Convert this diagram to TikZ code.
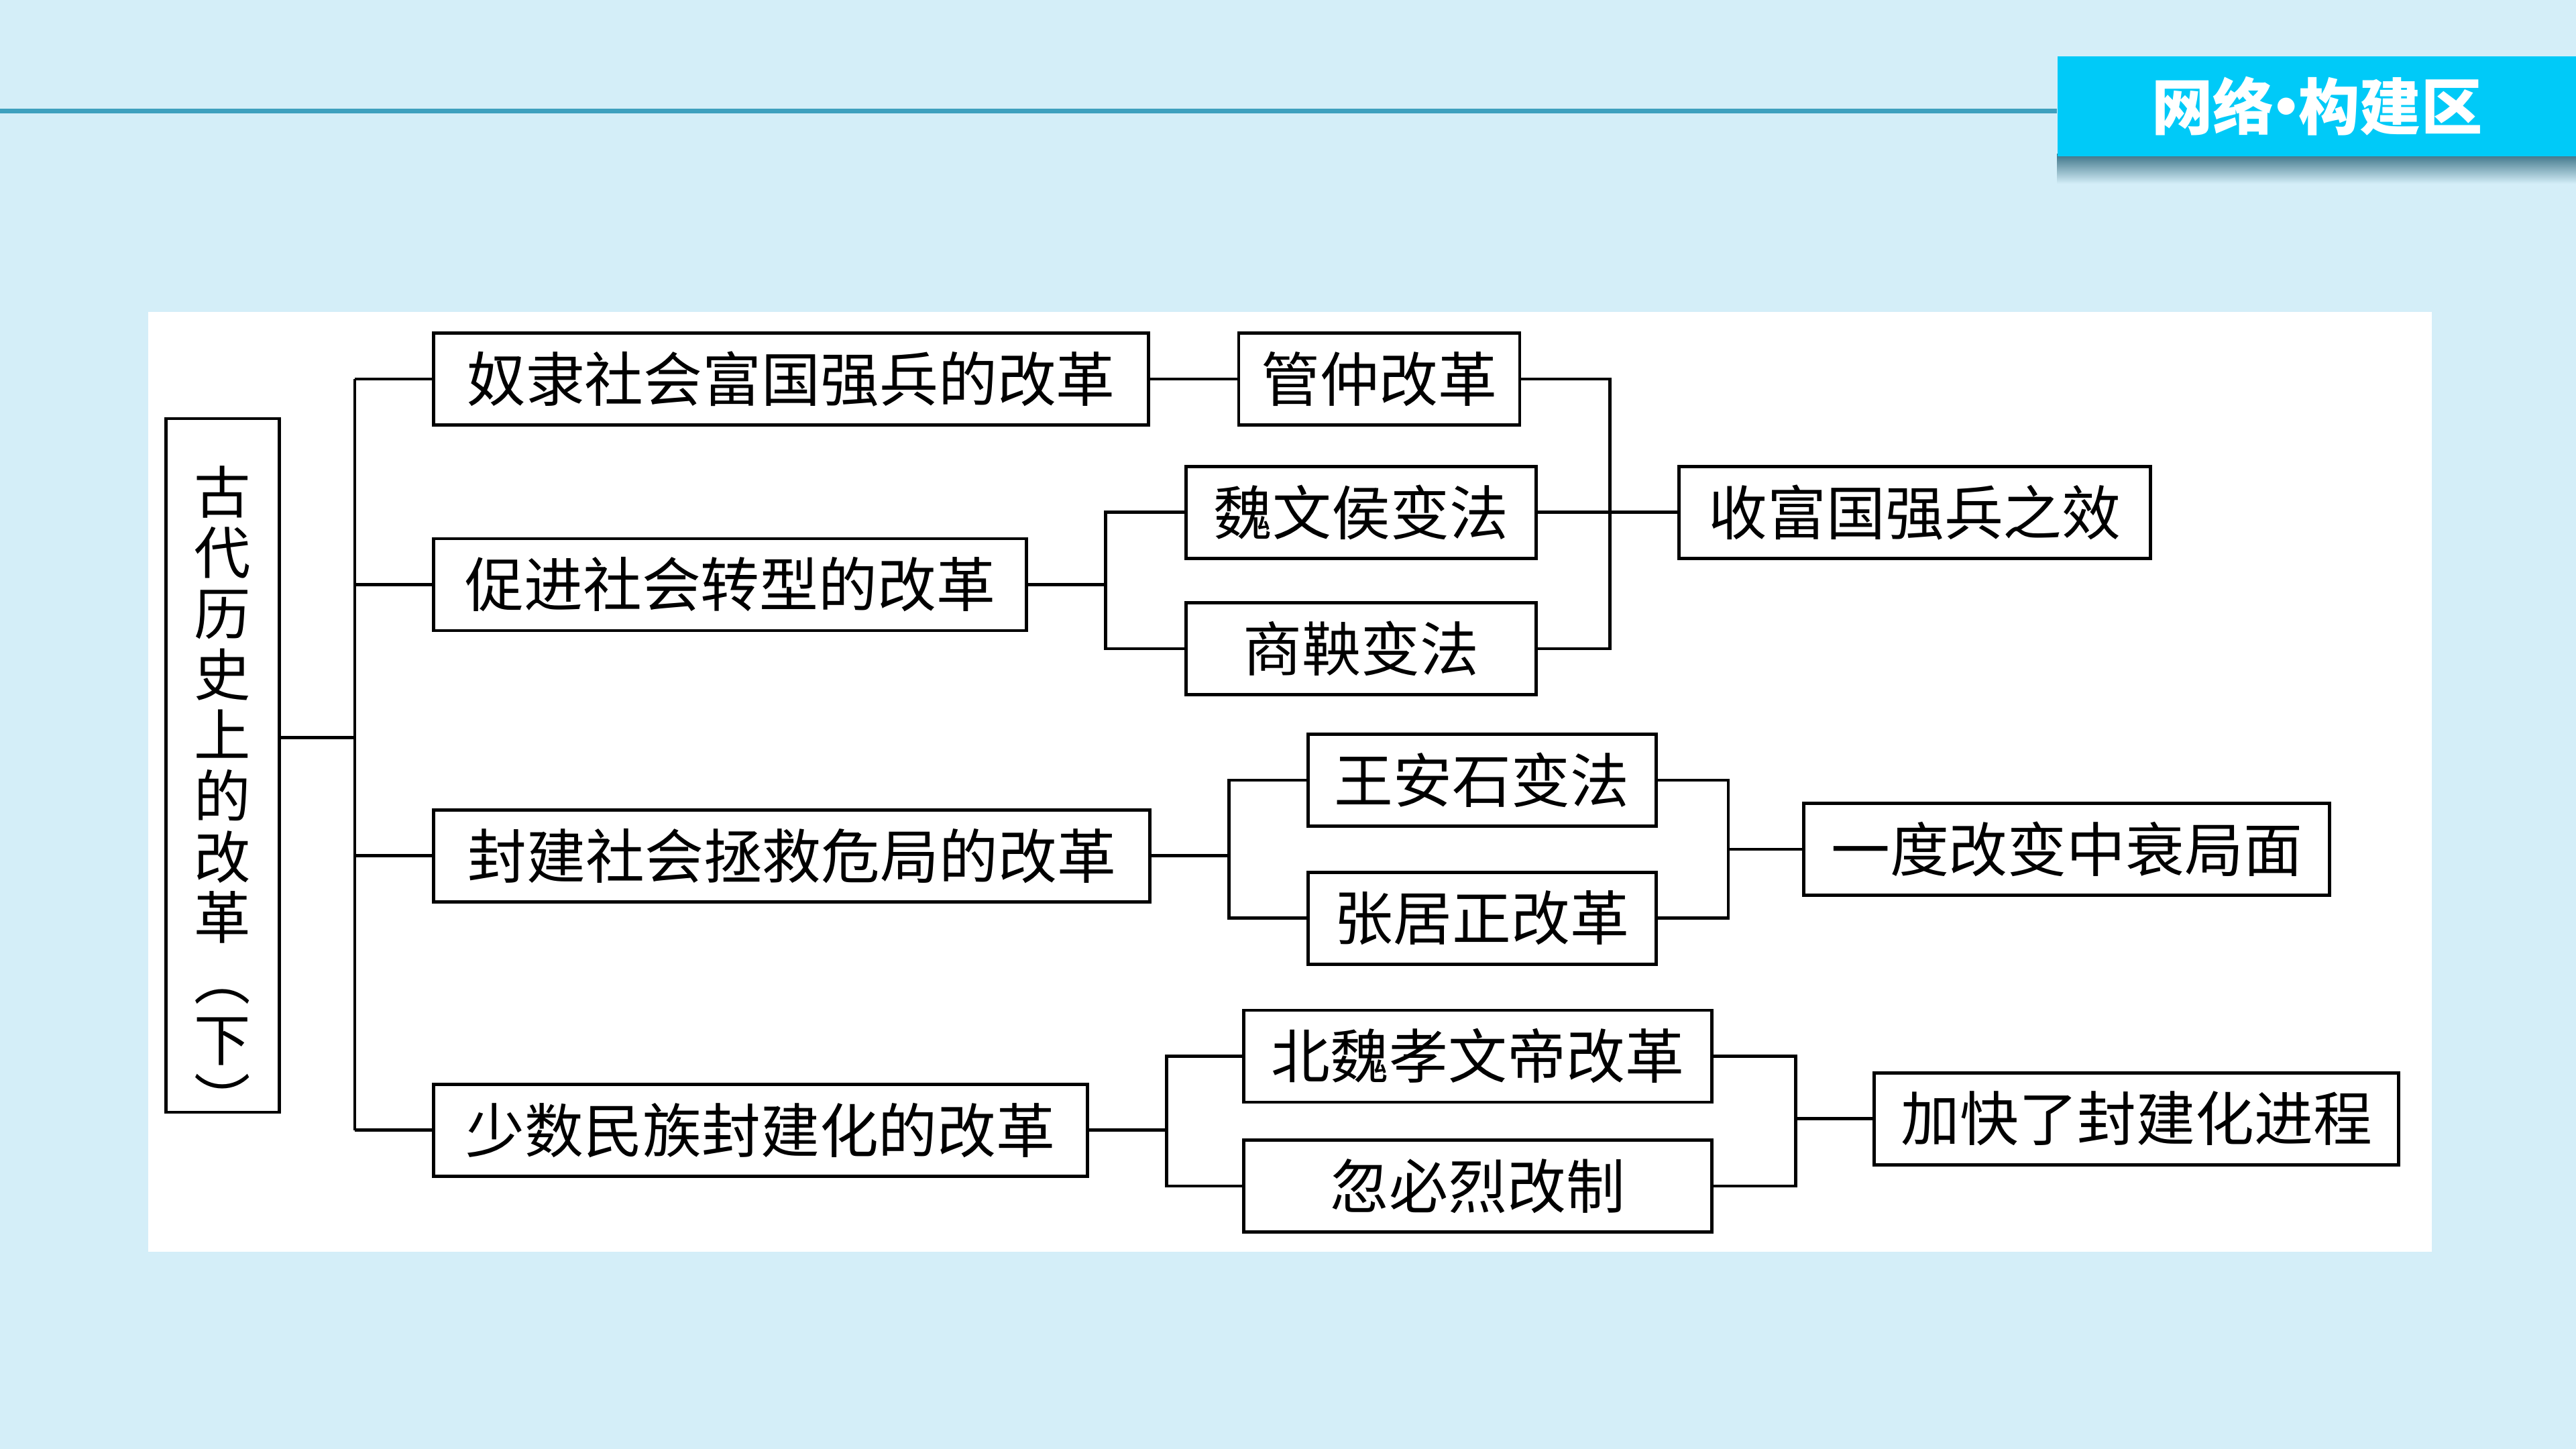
\documentclass[tikz,border=0pt]{standalone}
\usepackage{fontspec}
\newfontfamily\cjk{Noto Sans CJK SC}
\usepackage{tikz}
\usetikzlibrary{calc,positioning}
\definecolor{bgblue}{RGB}{212,238,248}
\definecolor{rulecol}{RGB}{62,160,190}
\definecolor{bannerblue}{RGB}{0,202,248}
\definecolor{shadowteal}{RGB}{60,115,135}

\begin{document}
\begin{tikzpicture}[x=1cm,y=1cm]

% --- STYLES ---
\tikzset{
  box/.style={draw=black, line width=1.4pt, fill=white,
              minimum height=1.37cm, inner xsep=0.15cm,
              font={\cjk\fontsize{25pt}{30pt}\selectfont}},
  roottext/.style={align=center, inner sep=0pt,
              font={\cjk\fontsize{24pt}{25.8pt}\selectfont}},
  link/.style={black, line width=1.3pt},
  banner/.style={fill=bannerblue, text=white, inner sep=0pt,
              font={\cjk\bfseries\fontsize{26pt}{30pt}\selectfont}},
}

% ================= BACKGROUND & BANNER =================
\fill[bgblue] (0,0) rectangle (38.41,21.60);
\useasboundingbox (0,0) rectangle (38.41,21.60);

\coordinate (ruleL) at (0,19.94);
\coordinate (ruleR) at (30.67,19.94);
\draw[rulecol, line width=2pt] (ruleL) -- (ruleR);

\shade[top color=shadowteal, bottom color=bgblue] (30.67,18.86) rectangle (38.41,19.30);
\node[banner, minimum width=7.74cm, minimum height=1.49cm, anchor=north west]
      (banner) at (30.67,20.77) {网络\kern-0.3em·\kern-0.3em构建区};

% white panel
\fill[white] (2.205,2.94) rectangle (36.26,16.95);

% ================= ROOT =================
\node[box, minimum width=1.69cm, minimum height=10.34cm] (root) at (3.319,10.19) {};
\node[roottext] (rootlbl) at ($(root.center)+(0,-0.42)$)
      {古\\代\\历\\史\\上\\的\\改\\革\\︵\\下\\︶};

% ================= FIRST LEVEL =================
\node[box, minimum width=10.66cm] (A) at (11.795,15.948) {奴隶社会富国强兵的改革};
\node[box, minimum width=8.84cm]  (B) at (10.889,12.885) {促进社会转型的改革};
\node[box, minimum width=10.68cm] (C) at (11.808, 8.843) {封建社会拯救危局的改革};
\node[box, minimum width=9.75cm]  (D) at (11.342, 4.752) {少数民族封建化的改革};

% ================= SECOND LEVEL =================
\node[box, minimum width=4.19cm] (A1) at (20.565,15.948) {管仲改革};
\node[box, minimum width=5.22cm] (B1) at (20.296,13.963) {魏文侯变法};
\node[box, minimum width=5.22cm] (B2) at (20.296,11.930) {商鞅变法};
\node[box, minimum width=5.19cm] (C1) at (22.096, 9.970) {王安石变法};
\node[box, minimum width=5.19cm] (C2) at (22.096, 7.913) {张居正改革};
\node[box, minimum width=6.98cm] (D1) at (22.035, 5.855) {北魏孝文帝改革};
\node[box, minimum width=6.98cm] (D2) at (22.035, 3.920) {忽必烈改制};

% ================= RESULTS =================
\node[box, minimum width=7.03cm] (R1) at (28.551,13.963) {收富国强兵之效};
\node[box, minimum width=7.84cm] (R2) at (30.817, 8.941) {一度改变中衰局面};
\node[box, minimum width=7.82cm] (R3) at (31.858, 4.924) {加快了封建化进程};

% ================= CONNECTORS =================
\coordinate (hub) at (5.291,10.607);
\draw[link] (root.east |- hub) -- (hub);
\draw[link] (A.west -| hub) -- (D.west -| hub);
\foreach \n in {A,B,C,D} {
    \draw[link] (\n.west -| hub) -- (\n.west);
}

\draw[link] (A.east) -- (A1.west);

% parent -> pair of reforms
\foreach \p/\u/\v/\bx in {B/B1/B2/16.486, C/C1/C2/18.324, D/D1/D2/17.393} {
    \coordinate (bus) at (\bx,0);
    \draw[link] (\p.east) -- (\p.east -| bus);
    \draw[link] (\u.west) -- (\u.west -| bus) -- (\v.west -| bus) -- (\v.west);
}

% reforms -> results
\coordinate (busR1) at (24.007,0);
\draw[link] (A1.east) -- (A1.east -| busR1) -- (B2.east -| busR1) -- (B2.east);
\draw[link] (B1.east) -- (R1.west);

\foreach \u/\v/\r/\bx in {C1/C2/R2/25.771, D1/D2/R3/26.775} {
    \coordinate (bus) at (\bx,0);
    \draw[link] (\u.east) -- (\u.east -| bus) -- (\v.east -| bus) -- (\v.east);
    \draw[link] (\r.west -| bus) -- (\r.west);
}

\end{tikzpicture}
\end{document}
